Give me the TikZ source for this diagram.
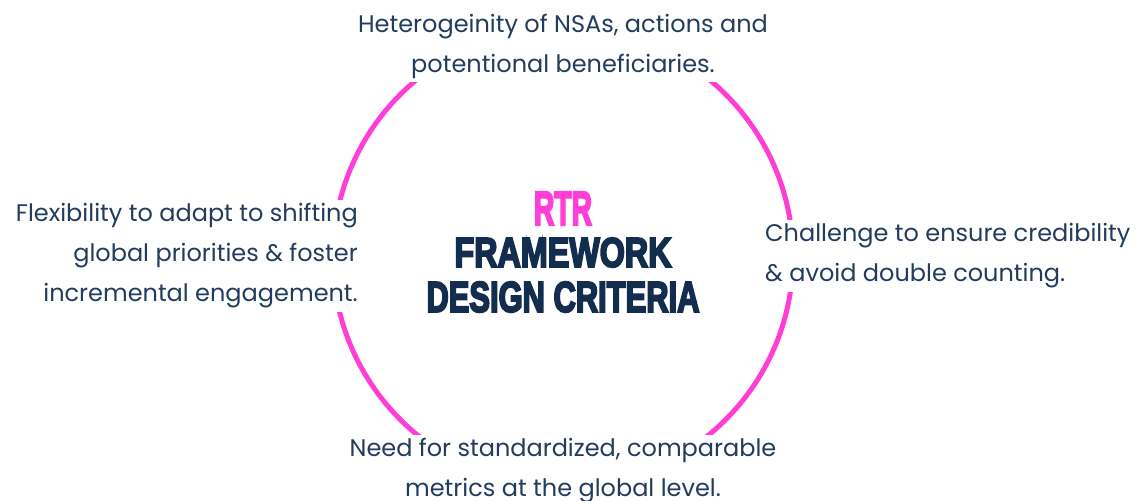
\documentclass[tikz,border=0pt]{standalone}
\usepackage{graphicx}
\usepackage{fontspec}
\setmainfont{Poppins}
\newfontfamily\titlefont{Liberation Sans}[FakeBold=5]
\usetikzlibrary{positioning}
\definecolor{rtrpink}{HTML}{FF3ED8}
\definecolor{critblue}{HTML}{223C5D}
\definecolor{titleblue}{HTML}{132D4E}

\begin{document}
\begin{tikzpicture}[x=1pt,y=-1pt,
    crit/.style={fill=white,text=critblue,inner sep=4pt,font=\fontsize{24}{40}\selectfont},
    ttl/.style={inner sep=0pt,font=\titlefont\bfseries}]
  \useasboundingbox (0,0) rectangle (1136,501);
  \draw[rtrpink,line width=5pt] (563,257) circle (230pt);
  \node[crit,align=center] (top) at (563,46) {Heterogeinity of NSAs, actions and\\potentional beneficiaries.};
  \node[crit,align=right,anchor=east] (left) at (362,256) {Flexibility to adapt to shifting\\global priorities \& foster\\incremental engagement.};
  \node[crit,align=left,anchor=west] (right) at (761,256) {Challenge to ensure credibility\\\& avoid double counting.};
  \node[crit,align=center] (bottom) at (563,471) {Need for standardized, comparable\\metrics at the global level.};
  \node[ttl,text=rtrpink] (rtr) at (563,208.5) {\resizebox{58pt}{33pt}{RTR}};
  \node[ttl,text=titleblue] (frame) at (563,252.5) {\resizebox{217pt}{29pt}{FRAMEWORK}};
  \node[ttl,text=titleblue] (design) at (563,297) {\resizebox{273pt}{30pt}{DESIGN CRITERIA}};
\end{tikzpicture}
\end{document}
